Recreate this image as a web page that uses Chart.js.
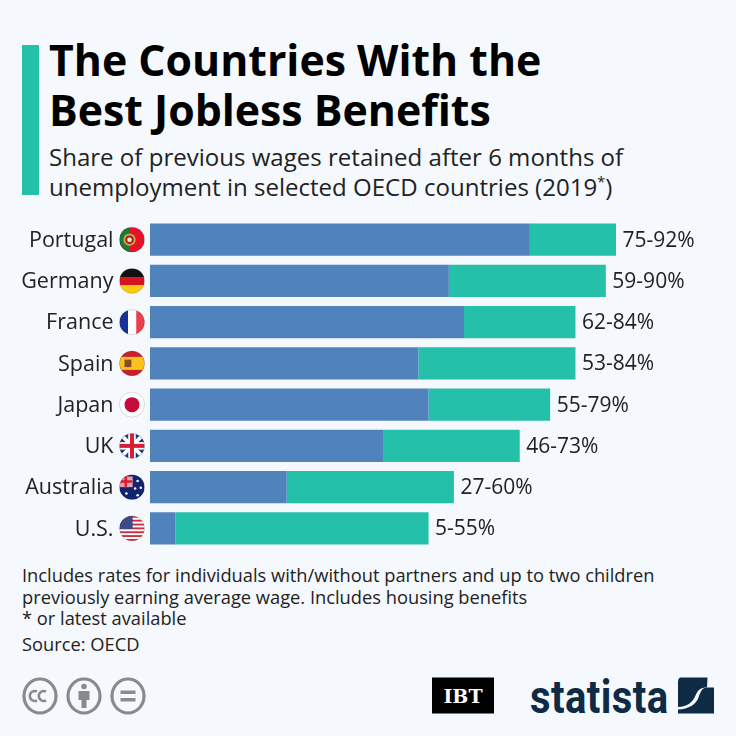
<!DOCTYPE html>
<html><head><meta charset="utf-8">
<script src="https://cdn.jsdelivr.net/npm/chart.js@4"></script>
<style>
html,body{margin:0;padding:0;background:#f5f9fd;width:736px;height:736px;overflow:hidden;font-family:"Open Sans",sans-serif;color:#0a0a0a}
.abs{position:absolute;white-space:nowrap}
#bar{left:22px;top:45px;width:17px;height:150px;background:#25c0aa}
#t{left:49px;top:35px;font-size:42.8px;font-weight:700;line-height:50px;color:#000}
#s{left:49px;top:142px;font-size:24.05px;line-height:29.5px;color:#222}
#f{left:22px;top:564px;font-size:18.3px;line-height:21.7px;color:#222}
#wrap{position:absolute;left:0;top:219px;width:736px;height:330px}
sup{font-size:60%;line-height:0}
</style></head><body>
<div id="bar" class="abs"></div>
<div id="t" class="abs">The Countries With the<br>Best Jobless Benefits</div>
<div id="s" class="abs">Share of previous wages retained after 6 months of<br>unemployment in selected OECD countries (2019<sup>*</sup>)</div>
<div id="f" class="abs">Includes rates for individuals with/without partners and up to two children<br>previously earning average wage. Includes housing benefits<br>* or latest available<br><span style="display:block;margin-top:4px">Source: OECD</span></div>
<div id="wrap"><canvas id="c" width="736" height="330" style="display:block;width:736px;height:330px"></canvas></div>
<svg class="abs" style="left:0;top:660px" width="736" height="76">
 <g fill="none" stroke="#878b8b" stroke-width="3.2">
  <ellipse cx="40" cy="36" rx="16" ry="17"/><ellipse cx="84" cy="36" rx="16" ry="17"/><ellipse cx="128" cy="36" rx="16" ry="17"/>
  <path d="M37 31.500a5 5 0 1 0 0 9M46 31.500a5 5 0 1 0 0 9" stroke-width="2.600"/>
 </g>
 <g fill="#878b8b">
  <circle cx="84" cy="26.500" r="2.800"/><path d="M78.500 31h11v9h-3v8h-5v-8h-3z"/>
  <rect x="120.500" y="30.500" width="15" height="3.500"/><rect x="120.500" y="38" width="15" height="3.500"/>
 </g>
 <rect x="432" y="17.500" width="62" height="36" fill="#000"/>
 <text x="463" y="43" text-anchor="middle" font-family="'DejaVu Serif'" font-weight="700" font-size="19" fill="#fff">IBT</text>
 <text x="0" y="0" transform="translate(530 53) scale(.87 1)" font-family="Roboto" font-weight="700" font-size="46" fill="#0f2a44" letter-spacing=".5">statista</text>
 <path d="M681 17.500h26.500l-.5 10c-6 0-9 2-11.500 8-3 7-8 11-17.500 11.500v-22c0-5 0-7.500 3.500-7.500z" fill="#0f2a44"/>
 <path d="M707 27.500h7v26h-36v-4c11-.5 18-5 20.500-12 2-6 4-10 8.500-10z" fill="#0f2a44"/>
</svg>
<script>
const categories=["Portugal","Germany","France","Spain","Japan","UK","Australia","U.S."];
const lowValues=[75,59,62,53,55,46,27,5];
const highValues=[92,90,84,84,79,73,60,55];
const colorLow="#5082bc";
const colorHigh="#25c0aa";
const flagDraw={
 Portugal(c,x,y,r){rect(c,x-r,y-r,r*2,r*2,"#e8112d");rect(c,x-r,y-r,r*.8,r*2,"#1b7a3a");c.fillStyle="#c9a53a";circ(c,x-r*.2,y,r*.5);c.fillStyle="#b01e2a";circ(c,x-r*.2,y,r*.34);c.fillStyle="#e8e8e8";circ(c,x-r*.2,y,r*.18)},
 Germany(c,x,y,r){rect(c,x-r,y-r,r*2,r*.72,"#111");rect(c,x-r,y-r*.3,r*2,r*.66,"#d8121f");rect(c,x-r,y+r*.34,r*2,r*.7,"#fbcb10")},
 France(c,x,y,r){rect(c,x-r,y-r,r*.7,r*2,"#15339a");rect(c,x-r*.32,y-r,r*.66,r*2,"#fff");rect(c,x+r*.34,y-r,r*.7,r*2,"#ec3f4c")},
 Spain(c,x,y,r){rect(c,x-r,y-r,r*2,r*2,"#c8202f");rect(c,x-r,y-r*.52,r*2,r*1.04,"#f9c21c");rect(c,x-r*.6,y-r*.3,r*.55,r*.6,"#8a4a2a")},
 Japan(c,x,y,r){rect(c,x-r,y-r,r*2,r*2,"#fff");c.fillStyle="#c40c3a";circ(c,x,y,r*.6)},
 UK(c,x,y,r){rect(c,x-r,y-r,r*2,r*2,"#fff");tri(c,x,y,r,"#1b3a80");cross(c,x,y,r,r*.16,"#d81e34")},
 Australia(c,x,y,r){rect(c,x-r,y-r,r*2,r*2,"#11246f");rect(c,x-r,y-r*.85,r*1.05,r*.85,"#e6a0ac");cross(c,x-r*.5,y-r*.45,r*.5,r*.1,"#d81e34");c.fillStyle="#fff";[[.45,-.5],[.7,.05],[.25,.1],[.45,.65],[-.45,.5]].forEach(p=>circ(c,x+p[0]*r,y+p[1]*r,r*.1))},
 "U.S."(c,x,y,r){rect(c,x-r,y-r,r*2,r*2,"#fff");for(let i=0;i<7;i++)rect(c,x-r,y-r+i*r*2/6.5,r*2,r/6.5,"#cf3044");rect(c,x-r,y-r,r*1.05,r*1.05,"#3e4a88");}
};
function rect(c,x,y,w,h,f){c.fillStyle=f;c.fillRect(x,y,w,h)}
function circ(c,x,y,r){c.beginPath();c.arc(x,y,r,0,7);c.fill()}
function tri(c,x,y,r,f){c.fillStyle=f;c.fillRect(x-r,y-r,r*2,r*2);c.strokeStyle="#fff";c.lineWidth=r*.3;c.beginPath();c.moveTo(x-r,y-r);c.lineTo(x+r,y+r);c.moveTo(x+r,y-r);c.lineTo(x-r,y+r);c.stroke();c.fillStyle="#fff";c.fillRect(x-r*.3,y-r,r*.6,r*2);c.fillRect(x-r,y-r*.3,r*2,r*.6)}
function cross(c,x,y,r,t,f){c.fillStyle=f;c.fillRect(x-t,y-r,t*2,r*2);c.fillRect(x-r,y-t,r*2,t*2)}
const flagsAndLabels={id:"flagsAndLabels",afterDatasetsDraw(ch){
 const c=ch.ctx,sy=ch.scales.y,sx=ch.scales.x;
 categories.forEach((n,i)=>{
  const y=sy.getPixelForValue(i),x=132,r=12.5;
  c.save();c.beginPath();c.arc(x,y,r,0,7);c.clip();flagDraw[n](c,x,y,r);c.restore();
  c.beginPath();c.arc(x,y,r,0,7);c.strokeStyle="rgba(0,0,0,.2)";c.lineWidth=.7;c.stroke();
  c.fillStyle="#222";c.font='21px "Open Sans"';c.textAlign="left";c.textBaseline="middle";
  c.fillText(lowValues[i]+"-"+highValues[i]+"%",sx.getPixelForValue(highValues[i])+6.5,y+1);
 });
}};
new Chart(document.getElementById("c"),{
 type:"bar",
 data:{labels:categories,datasets:[
  {label:"Low",data:lowValues,backgroundColor:colorLow,order:1},
  {label:"High",data:highValues.map((h,i)=>[lowValues[i],h]),backgroundColor:colorHigh,order:2}
 ]},
 options:{indexAxis:"y",responsive:false,animation:false,
  layout:{padding:{left:0,right:79.5,top:0,bottom:0}},
  datasets:{bar:{grouped:false,barPercentage:.78,categoryPercentage:1,borderWidth:0}},
  plugins:{legend:{display:false},tooltip:{enabled:false}},
  scales:{
   x:{min:0,max:100,display:false},
   y:{afterFit(s){s.width=150;s.paddingTop=0;s.paddingBottom=0},grid:{display:false},border:{display:false},
      ticks:{color:"#222",padding:28.5,labelOffset:1,font:{family:"Open Sans",size:21.5},autoSkip:false}}
  }},
 plugins:[flagsAndLabels]
});
</script>
</body></html>
